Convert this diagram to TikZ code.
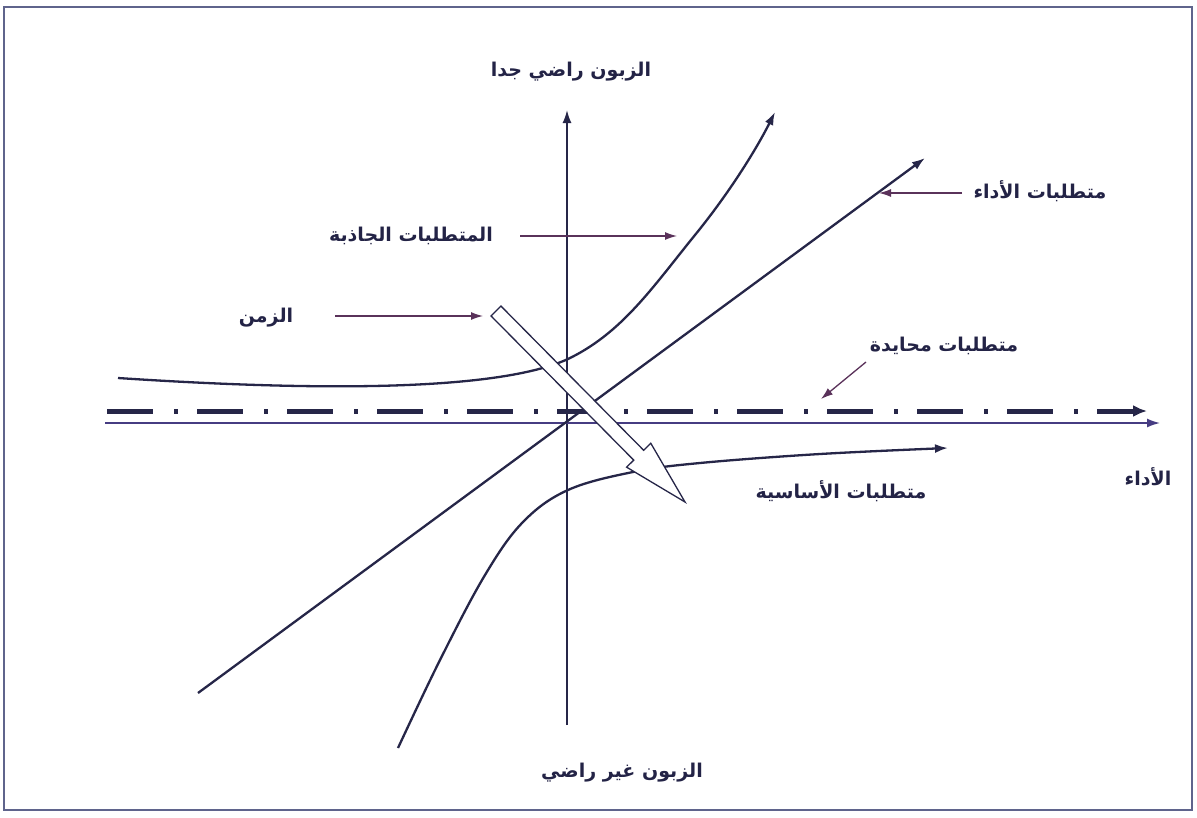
\documentclass[tikz,border=0pt]{standalone}
\usepackage{fontspec}
\newfontfamily\arabicfont[Script=Arabic]{DejaVu Sans}
\TeXXeTstate=1
\usetikzlibrary{arrows.meta,calc}
\definecolor{linec}{RGB}{38,38,72}
\definecolor{axisc}{RGB}{70,60,130}
\definecolor{labarr}{RGB}{90,50,90}
\definecolor{framec}{RGB}{95,100,140}
\definecolor{textc}{RGB}{35,35,70}
\tikzset{
  curve/.style={draw=linec, line width=2.3pt, -{Latex[length=13pt,width=9pt]}},
  labtext/.style={font=\arabicfont\bfseries\fontsize{19}{23}\selectfont, text=textc, inner sep=0pt},
  labarrow/.style={draw=labarr, line width=1.3pt, -{Latex[length=12pt,width=8pt]}},
  hollow/.style={draw=linec, line width=1.3pt, fill=white},
}
\newcommand{\ar}[1]{\beginR #1\endR}
\begin{document}
\begin{tikzpicture}[x=1pt,y=-1pt]
\useasboundingbox (0,0) rectangle (1197,817);
\fill[white] (0,0) rectangle (1197,817);
\draw[framec, line width=2pt] (4,7) rectangle (1192,810);

% axes
\coordinate (vB) at (567,725);
\coordinate (vT) at (567,110);
\draw[draw=linec, line width=1.8pt, -{Latex[length=13pt,width=9pt]}] (vB) -- (vT);
\coordinate (hL) at (105,423);
\coordinate (hR) at (1160,423);
\draw[draw=axisc, line width=1.6pt, -{Latex[length=13pt,width=9pt]}] (hL) -- (hR);

% neutral (dash-dot)
\coordinate (nL) at (107,411);
\coordinate (nR) at (1147,411);
\draw[draw=linec, line width=5pt, dash pattern=on 46pt off 21pt on 4pt off 19pt, -{Latex[length=14pt,width=12pt]}] (nL) -- (nR);

% performance line
\coordinate (pS) at (198,693);
\coordinate (pE) at (925,158);
\draw[curve] (pS) -- (pE);

% attractive curve
\coordinate (aS) at (118,378);
\coordinate (aM) at (568,359);
\coordinate (aU) at (695,235);
\coordinate (aE) at (775,112);
\draw[curve] (aS) .. controls (330,392) and (500,390) .. (aM)
  .. controls (622,333) and (652,288) .. (aU)
  .. controls (730,192) and (757,148) .. (aE);

% must-be curve
\draw[curve] plot[smooth, tension=0.6] coordinates {(398,748) (440,660) (485,575) (523,522) (568,490) (633,472) (700,463) (820,454) (948,448)};

% hollow time arrow
\coordinate (tS) at (496,311);
\coordinate (tE) at (685,502);
\coordinate (tB) at ($(tS)!0.755!(tE)$);
\draw[hollow] ($(tS)!7pt!90:(tE)$) -- ($(tB)!7pt!90:(tE)$) -- ($(tB)!17pt!90:(tE)$) -- (tE)
  -- ($(tB)!17pt!-90:(tE)$) -- ($(tB)!7pt!-90:(tE)$) -- ($(tS)!7pt!-90:(tE)$) -- cycle;

% labels
\node[labtext] (top) at (571,72) {\ar{الزبون راضي جدا}};
\node[labtext] (bot) at (622,773) {\ar{الزبون غير راضي}};
\node[labtext] (attr) at (411,236) {\ar{المتطلبات الجاذبة}};
\node[labtext] (perf) at (1040,191) {\ar{متطلبات الأداء}};
\node[labtext] (time) at (266,318) {\ar{الزمن}};
\node[labtext] (neut) at (944,346) {\ar{متطلبات محايدة}};
\node[labtext] (xlab) at (1148,477) {\ar{الأداء}};
\node[labtext] (must) at (841,491) {\ar{متطلبات الأساسية}};

% label arrows
\coordinate (attrS) at (520,236);
\coordinate (attrT) at (677,236);
\coordinate (perfS) at (962,193);
\coordinate (perfT) at (879,193);
\coordinate (timeS) at (335,316);
\coordinate (timeT) at (483,316);
\coordinate (neutS) at (866,362);
\coordinate (neutT) at (821,399);
\draw[labarrow] (attrS) -- (attrT);
\draw[labarrow] (perfS) -- (perfT);
\draw[labarrow] (timeS) -- (timeT);
\draw[labarrow] (neutS) -- (neutT);
\end{tikzpicture}
\end{document}
